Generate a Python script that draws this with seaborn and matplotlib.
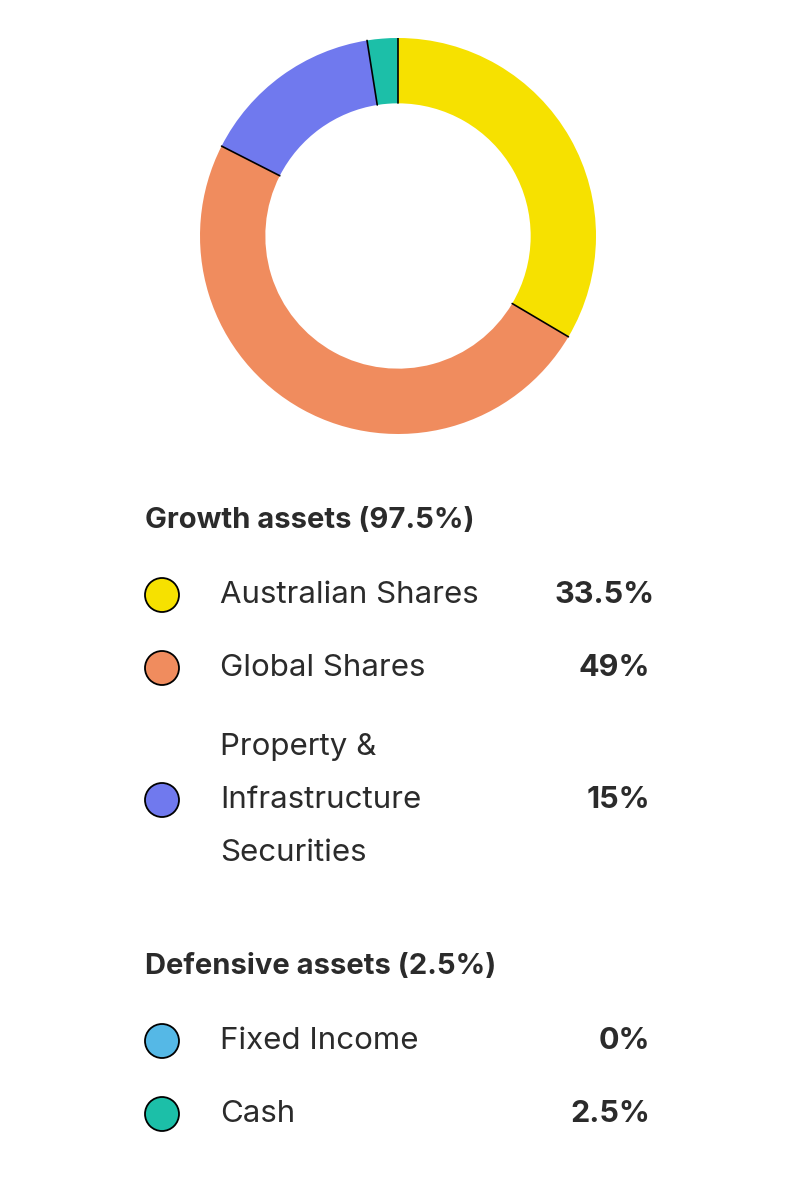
import matplotlib
matplotlib.use("Agg")
import matplotlib.pyplot as plt
import seaborn as sns
import numpy as np
from matplotlib.patches import Circle

sns.set_theme(style="white")
plt.rcParams['font.family'] = ['Inter', 'DejaVu Sans']

categories = ["Australian Shares", "Global Shares", "Property & Infrastructure Securities", "Fixed Income", "Cash"]
values = [33.5, 49, 15, 0, 2.5]
value_labels = ["33.5%", "49%", "15%", "0%", "2.5%"]
legend_labels = ["Australian Shares", "Global Shares", "Property &\nInfrastructure\nSecurities", "Fixed Income", "Cash"]
colors = ["#F6E100", "#F08C5E", "#7079EE", "#55B8E6", "#1CBFA8"]
groups = ["Growth assets (97.5%)", "Defensive assets (2.5%)"]

fig = plt.figure(figsize=(8, 12), dpi=100)
fig.patch.set_facecolor("white")

ax = fig.add_axes([0.25, 1 - 434/1200, 0.495, 0.33])
pv = [v for v in values if v > 0]
pc = [c for v, c in zip(values, colors) if v > 0]
inner = 1 - 0.33
ax.pie(pv, colors=pc, startangle=90, counterclock=False, radius=1,
       wedgeprops=dict(width=0.33, edgecolor="none", linewidth=0))
cum = np.cumsum([0] + pv)[:-1] / sum(pv)
for f in cum:
    a = np.pi / 2 - 2 * np.pi * f
    ax.plot([inner * np.cos(a), np.cos(a)], [inner * np.sin(a), np.sin(a)], color="black", lw=1.2)
ax.set_xlim(-1, 1); ax.set_ylim(-1, 1)
ax.set_aspect("equal")
ax.axis("off")

lx = fig.add_axes([0, 0, 1, 1])
lx.set_xlim(0, 800); lx.set_ylim(1200, 0); lx.axis("off"); lx.patch.set_alpha(0)
tc = "#2b2b2b"
lx.text(145, 520, groups[0], fontsize=21, fontweight="bold", color=tc, va="center")
lx.text(145, 967, groups[1], fontsize=21, fontweight="bold", color=tc, va="center")
ys = [595, 668, 800, 1041, 1114]
vx = [655, 650, 650, 650, 650]
for i in range(5):
    lx.add_patch(Circle((162, ys[i]), 17, facecolor=colors[i], edgecolor="black", linewidth=1.3))
    lx.text(220, ys[i], legend_labels[i], fontsize=22.5, color=tc, va="center", linespacing=2.15)
    lx.text(vx[i], ys[i], value_labels[i], fontsize=22, fontweight="bold", color=tc, va="center", ha="right")

fig.savefig("out.png", dpi=100, facecolor="white")
